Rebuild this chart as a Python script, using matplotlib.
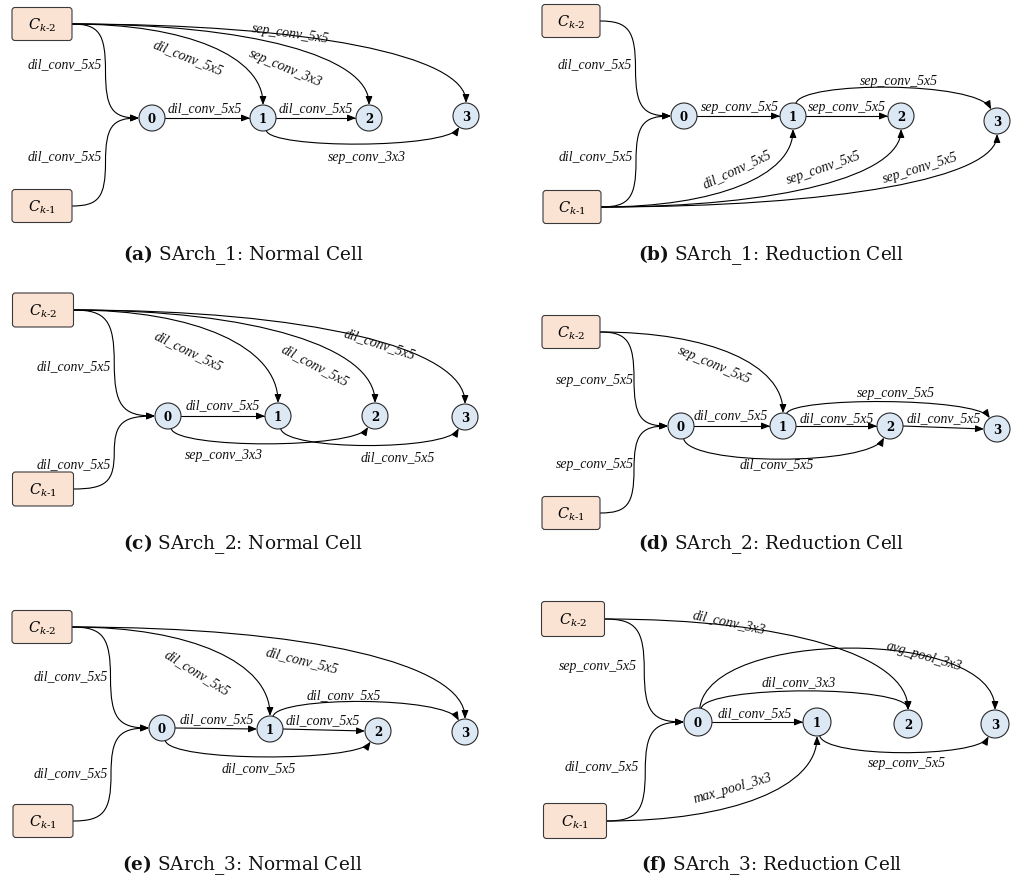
import numpy as np
import matplotlib.pyplot as plt
from matplotlib.path import Path
from matplotlib.patches import FancyArrowPatch, FancyBboxPatch, Circle

plt.rcParams['mathtext.fontset'] = 'dejavuserif'

# ---- panel data (pixel coords, y down) ----
letters = ['a', 'b', 'c', 'd', 'e', 'f']
titles = ['SArch_1: Normal Cell', 'SArch_1: Reduction Cell',
          'SArch_2: Normal Cell', 'SArch_2: Reduction Cell',
          'SArch_3: Normal Cell', 'SArch_3: Reduction Cell']
caption_xy = [(243, 255), (771, 255), (243, 544), (771, 544), (242, 865), (772, 865)]

# input boxes C_{k-2}, C_{k-1}
boxes = [
    [(42, 25), (42, 207)],
    [(571, 22), (572, 208)],
    [(43, 311), (43, 490)],
    [(571, 333), (571, 514)],
    [(42, 628), (43, 822)],
    [(573, 620), (575, 822)],
]
box_size = [(60, 33), (58, 33), (61, 34), (58, 33), (60, 33), (63, 35)]

# intermediate nodes 0..3
nodes = [
    [(152, 119), (263, 119), (369, 119), (466, 117)],
    [(684, 117), (793, 117), (901, 117), (997, 122)],
    [(168, 417), (278, 417), (375, 417), (465, 418)],
    [(681, 427), (783, 427), (890, 427), (997, 430)],
    [(162, 729), (270, 730), (378, 732), (465, 733)],
    [(698, 723), (817, 723), (908, 725), (995, 725)],
]
node_r = [13, 13, 13, 13, 13, 14]

# edges: (src, dst, kind, bend, op, label x, label y, rotation)
edges = [
    [('k2', 0, 'S', 0, 'dil_conv_5x5', 65, 65, 0),
     ('k1', 0, 'S', 0, 'dil_conv_5x5', 65, 157, 0),
     ('k2', 1, 'down', 0, 'dil_conv_5x5', 188, 58, -22),
     ('k2', 2, 'down', 0, 'sep_conv_3x3', 285, 68, -23),
     ('k2', 3, 'down', 0, 'sep_conv_5x5', 290, 34, -8),
     (0, 1, 'line', 0, 'dil_conv_5x5', 205, 109, 0),
     (1, 2, 'line', 0, 'dil_conv_5x5', 316, 109, 0),
     (1, 3, 'below', 18, 'sep_conv_3x3', 367, 157, 0)],
    [('k2', 0, 'S', 0, 'dil_conv_5x5', 595, 65, 0),
     ('k1', 0, 'S', 0, 'dil_conv_5x5', 596, 157, 0),
     (0, 1, 'line', 0, 'sep_conv_5x5', 740, 108, 0),
     (1, 2, 'line', 0, 'sep_conv_5x5', 847, 108, 0),
     (1, 3, 'above', 22, 'sep_conv_5x5', 899, 82, 0),
     ('k1', 1, 'up', 0, 'dil_conv_5x5', 737, 169, 25),
     ('k1', 2, 'up', 0, 'sep_conv_5x5', 824, 168, 19),
     ('k1', 3, 'up', 0, 'sep_conv_5x5', 920, 168, 17)],
    [('k2', 0, 'S', 0, 'dil_conv_5x5', 74, 367, 0),
     ('k1', 0, 'S', 0, 'dil_conv_5x5', 74, 465, 0),
     ('k2', 1, 'down', 0, 'dil_conv_5x5', 188, 351, -26),
     ('k2', 2, 'down', 0, 'dil_conv_5x5', 315, 366, -28),
     ('k2', 3, 'down', 0, 'dil_conv_5x5', 380, 344, -18),
     (0, 1, 'line', 0, 'dil_conv_5x5', 223, 406, 0),
     (0, 2, 'below', 20, 'sep_conv_3x3', 224, 456, 0),
     (1, 3, 'below', 22, 'dil_conv_5x5', 398, 458, 0)],
    [('k2', 0, 'S', 0, 'sep_conv_5x5', 595, 381, 0),
     ('k1', 0, 'S', 0, 'sep_conv_5x5', 595, 465, 0),
     ('k2', 1, 'down', 0, 'sep_conv_5x5', 714, 365, -23),
     (0, 1, 'line', 0, 'dil_conv_5x5', 731, 416, 0),
     (1, 2, 'line', 0, 'dil_conv_5x5', 837, 419, 0),
     (2, 3, 'line', 0, 'dil_conv_5x5', 944, 419, 0),
     (1, 3, 'above', 16, 'sep_conv_5x5', 896, 394, 0),
     (0, 2, 'below', 27, 'dil_conv_5x5', 777, 465, 0)],
    [('k2', 0, 'S', 0, 'dil_conv_5x5', 71, 677, 0),
     ('k1', 0, 'S', 0, 'dil_conv_5x5', 71, 774, 0),
     ('k2', 1, 'down', 0, 'dil_conv_5x5', 197, 673, -32),
     ('k2', 3, 'down', 0, 'dil_conv_5x5', 302, 661, -14),
     (0, 1, 'line', 0, 'dil_conv_5x5', 217, 720, 0),
     (1, 2, 'line', 0, 'dil_conv_5x5', 323, 721, 0),
     (1, 3, 'above', 20, 'dil_conv_5x5', 344, 696, 0),
     (0, 2, 'below', 21, 'dil_conv_5x5', 259, 769, 0)],
    [('k2', 0, 'S', 0, 'sep_conv_5x5', 598, 667, 0),
     ('k1', 0, 'S', 0, 'dil_conv_5x5', 602, 767, 0),
     ('k2', 2, 'down', 0, 'dil_conv_3x3', 729, 622, -12),
     (0, 3, 'over', 80, 'avg_pool_3x3', 924, 657, -16),
     (0, 2, 'over', 23, 'dil_conv_3x3', 799, 683, 0),
     (0, 1, 'line', 0, 'dil_conv_5x5', 755, 714, 0),
     (1, 3, 'below', 22, 'sep_conv_5x5', 907, 764, 0),
     ('k1', 1, 'up', 0, 'max_pool_3x3', 733, 789, 16)],
]

W, H = 1021, 879
fig = plt.figure(figsize=(W / 100, H / 100), dpi=100)
ax = fig.add_axes([0, 0, 1, 1])
ax.set_xlim(0, W)
ax.set_ylim(H, 0)
ax.axis('off')

M, C4 = Path.MOVETO, Path.CURVE4


def on_circle(c, r, toward):
    v = np.subtract(toward, c).astype(float)
    v /= np.hypot(*v)
    return np.asarray(c, float) + r * v


def edge_path(src, dst, kind, bend, r, bw):
    src = np.asarray(src, float)
    dst = np.asarray(dst, float)
    if kind == 'S':
        p0 = np.array([src[0] + bw / 2, src[1]])
        p3 = np.array([dst[0] - r, dst[1]])
        xm, ym = (p0 + p3) / 2
        k = 0.8
        verts = [p0, (p0[0] + k * (xm - p0[0]), p0[1]), (xm, ym - k * (ym - p0[1])), (xm, ym),
                 (xm, ym + k * (p3[1] - ym)), (p3[0] - k * (p3[0] - xm), p3[1]), p3]
        return Path(verts, [M] + [C4] * 6)
    if kind in ('down', 'up'):
        p0 = np.array([src[0] + bw / 2, src[1]])
        p3 = np.array([dst[0], dst[1] - r if kind == 'down' else dst[1] + r])
        corner = np.array([p3[0], p0[1]])
        k = 0.6
        verts = [p0, p0 + k * (corner - p0), p3 + k * (corner - p3), p3]
        return Path(verts, [M, C4, C4, C4])
    if kind == 'line':
        return Path([(src[0] + r, src[1]), (dst[0] - r, dst[1])], [M, Path.LINETO])
    sgn = 1 if kind == 'below' else -1
    cy = src[1] + sgn * (r + bend)
    dx = dst[0] - src[0]
    c1 = (src[0] + 0.04 * dx, cy)
    c2 = (dst[0] - (0 if kind == 'over' else 0.1) * dx, cy)
    p0 = on_circle(src, r, c1)
    p3 = on_circle(dst, r, c2)
    return Path([p0, c1, c2, p3], [M, C4, C4, C4])


label_font = dict(family='Liberation Serif', style='italic', size=9.9)

for i in range(6):
    bw, bh = box_size[i]
    r = node_r[i]
    pos = {'k2': boxes[i][0], 'k1': boxes[i][1]}
    for j, p in enumerate(nodes[i]):
        pos[j] = p

    for src, dst, kind, bend, op, lx, ly, rot in edges[i]:
        path = edge_path(pos[src], pos[dst], kind, bend, r, bw)
        arr = FancyArrowPatch(path=path, arrowstyle='-|>,head_length=0.5,head_width=0.2',
                              mutation_scale=10, lw=0.8, color='black', zorder=2)
        ax.add_patch(arr)
        ax.text(lx, ly, op, ha='center', va='center', rotation=rot,
                rotation_mode='anchor', color='#111111', zorder=4, **label_font)

    for (bx, by), name in zip(boxes[i], [r'$C_{k\text{-}2}$', r'$C_{k\text{-}1}$']):
        ax.add_patch(FancyBboxPatch((bx - bw / 2 + 3, by - bh / 2 + 3), bw - 6, bh - 6,
                                    boxstyle='round,pad=3', fc='#fbe3d4', ec='#3a3a3a',
                                    lw=0.8, zorder=3))
        ax.text(bx, by, name, ha='center', va='center', fontsize=10.5, zorder=4)

    for j, (nx, ny) in enumerate(nodes[i]):
        ax.add_patch(Circle((nx, ny), r, fc='#dde8f5', ec='#2a2a2a', lw=0.8, zorder=3))
        ax.text(nx, ny + 0.5, str(j), ha='center', va='center', fontsize=8.5,
                family='DejaVu Serif', fontweight='bold', zorder=4)

    cx, cy = caption_xy[i]
    ax.text(cx, cy, r'$\mathbf{(%s)}$ %s' % (letters[i], titles[i]), ha='center',
            va='center', fontsize=13.3, family='DejaVu Serif', color='#111111')

fig.savefig('out.png', dpi=100)
